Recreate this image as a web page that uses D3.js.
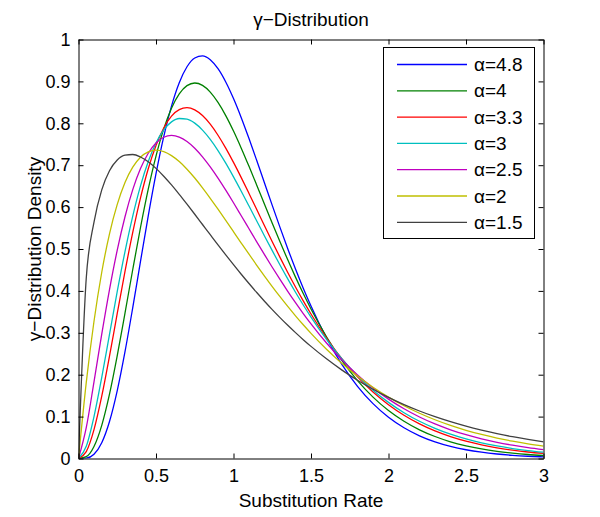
<!DOCTYPE html>
<html>
<head>
<meta charset="utf-8">
<script src="https://cdn.jsdelivr.net/npm/d3@7"></script>
<style>
  html, body { margin: 0; padding: 0; background: #fff; }
  text { font-family: "Liberation Sans", Arial, Helvetica, sans-serif; }
</style>
</head>
<body>
<svg id="chart" width="600" height="517"></svg>
<script>
// ---- data ----
const xValues = [0, 0.05, 0.1, 0.15, 0.2, 0.25, 0.3, 0.35, 0.4, 0.45, 0.5, 0.55, 0.6, 0.65, 0.7, 0.75, 0.8, 0.85, 0.9, 0.95, 1.0,
  1.05, 1.1, 1.15, 1.2, 1.25, 1.3, 1.35, 1.4, 1.45, 1.5, 1.6, 1.7, 1.8, 1.9, 2.0, 2.1, 2.2, 2.3, 2.4, 2.5, 2.6, 2.7, 2.8, 2.9, 3.0];

const dens48 = [0, .0009, .0102, .0376, .0882, .1620, .2549, .3601, .4705, .5791, .6798, .7682, .8410, .8968, .9349, .9558, .9609, .9517, .9302, .8986, .8590,
  .8134, .7635, .7111, .6576, .6041, .5516, .5008, .4523, .4066, .3638, .2877, .2241, .1723, .1310, .0985, .0734, .0542, .0397, .0289, .0209, .0150, .0107, .0076, .0054, .0038];
const dens40 = [0, .0044, .0286, .0790, .1534, .2453, .3470, .4511, .5513, .6427, .7218, .7866, .8361, .8703, .8899, .8962, .8905, .8745, .8499, .8184, .7815,
  .7407, .6972, .6523, .6068, .5615, .5171, .4741, .4329, .3938, .3569, .2904, .2335, .1858, .1465, .1145, .0889, .0685, .0525, .0399, .0303, .0228, .0171, .0128, .0095, .0071];
const dens33 = [0, .0165, .0690, .1487, .2444, .3462, .4465, .5397, .6221, .6916, .7472, .7889, .8171, .8328, .8374, .8321, .8184, .7978, .7715, .7407, .7067,
  .6704, .6326, .5941, .5555, .5174, .4801, .4440, .4093, .3762, .3449, .2876, .2377, .1949, .1587, .1284, .1032, .0826, .0658, .0522, .0412, .0324, .0254, .0199, .0155, .0120];
const dens30 = [0, .0290, .1000, .1937, .2964, .3986, .4940, .5787, .6506, .7087, .7531, .7843, .8034, .8115, .8100, .8004, .7838, .7616, .7349, .7048, .6721,
  .6378, .6025, .5668, .5312, .4961, .4618, .4286, .3968, .3663, .3374, .2844, .2379, .1976, .1631, .1339, .1093, .0889, .0720, .0581, .0467, .0374, .0299, .0238, .0189, .0150];
const dens25 = [0, .0734, .1831, .2968, .4033, .4974, .5770, .6417, .6919, .7286, .7531, .7667, .7710, .7672, .7566, .7405, .7199, .6958, .6690, .6403, .6103,
  .5794, .5483, .5172, .4866, .4565, .4273, .3990, .3719, .3459, .3212, .2756, .2351, .1994, .1685, .1417, .1187, .0991, .0825, .0685, .0567, .0469, .0386, .0318, .0261, .0214];
const dens20 = [0, .1810, .3275, .4445, .5363, .6065, .6586, .6952, .7189, .7318, .7358, .7323, .7229, .7086, .6905, .6694, .6461, .6211, .5951, .5684, .5413,
  .5143, .4875, .4612, .4354, .4104, .3862, .3629, .3405, .3191, .2987, .2609, .2269, .1967, .1700, .1465, .1260, .1080, .0925, .0790, .0674, .0574, .0488, .0414, .0351, .0297];
const dens15 = [0, .4301, .5642, .6411, .6868, .7124, .7240, .7255, .7196, .7081, .6924, .6737, .6529, .6304, .6069, .5829, .5585, .5341, .5098, .4860, .4626,
  .4397, .4176, .3961, .3754, .3554, .3363, .3179, .3004, .2836, .2676, .2379, .2110, .1869, .1653, .1460, .1287, .1134, .0998, .0878, .0771, .0677, .0593, .0520, .0456, .0399];

const seriesLabels = ["\u03b1=4.8", "\u03b1=4", "\u03b1=3.3", "\u03b1=3", "\u03b1=2.5", "\u03b1=2", "\u03b1=1.5"];
const seriesValues = [dens48, dens40, dens33, dens30, dens25, dens20, dens15];

const xTicks = [0, 0.5, 1, 1.5, 2, 2.5, 3];
const xTickLabels = ["0", "0.5", "1", "1.5", "2", "2.5", "3"];
const yTicks = [0, 0.1, 0.2, 0.3, 0.4, 0.5, 0.6, 0.7, 0.8, 0.9, 1];
const yTickLabels = ["0", "0.1", "0.2", "0.3", "0.4", "0.5", "0.6", "0.7", "0.8", "0.9", "1"];

const titleText = "\u03b3\u2212Distribution";
const xLabelText = "Substitution Rate";
const yLabelText = "\u03b3\u2212Distribution Density";

// ---- styles ----
const colors = ["#0000ff", "#008000", "#ff0000", "#00bfbf", "#bf00bf", "#bfbf00", "#404040"];
const TICK_FONT = 18;
const LABEL_FONT = 19;

// ---- layout ----
const L = 78.5, R = 543.5, T = 39.5, B = 458.5;
const svg = d3.select("#chart");

const x = d3.scaleLinear().domain([0, 3]).range([L, R]);
const y = d3.scaleLinear().domain([0, 1]).range([B, T]);

svg.append("defs").append("clipPath").attr("id", "clip")
  .append("rect").attr("x", L).attr("y", T).attr("width", R - L).attr("height", B - T);

// curves
const line = d3.line()
  .x((d, i) => x(xValues[i]))
  .y(d => y(d))
  .curve(d3.curveMonotoneX);

const curves = svg.append("g").attr("clip-path", "url(#clip)");
seriesValues.forEach((vals, k) => {
  curves.append("path")
    .datum(vals)
    .attr("d", line)
    .attr("fill", "none")
    .attr("stroke", colors[k])
    .attr("stroke-width", 1.3)
    .attr("stroke-linejoin", "round");
});

// axes
function styleAxis(g) {
  g.selectAll(".domain").attr("stroke", "#000").attr("stroke-width", 1);
  g.selectAll(".tick line").attr("stroke", "#000").attr("stroke-width", 1);
  g.selectAll("text").attr("font-size", TICK_FONT).attr("fill", "#000")
    .attr("font-family", "'Liberation Sans', Arial, Helvetica, sans-serif");
  g.attr("font-family", null).attr("font-size", null);
}

const xAxis = d3.axisBottom(x).tickValues(xTicks).tickFormat((d, i) => xTickLabels[i])
  .tickSizeInner(-5).tickSizeOuter(0).tickPadding(11);
svg.append("g").attr("transform", `translate(0,${B})`).call(xAxis).call(styleAxis);

const xAxisTop = d3.axisTop(x).tickValues(xTicks).tickFormat("")
  .tickSizeInner(-5).tickSizeOuter(0);
svg.append("g").attr("transform", `translate(0,${T})`).call(xAxisTop).call(styleAxis);

const yAxis = d3.axisLeft(y).tickValues(yTicks).tickFormat((d, i) => yTickLabels[i])
  .tickSizeInner(-5).tickSizeOuter(0).tickPadding(8);
svg.append("g").attr("transform", `translate(${L},0)`).call(yAxis).call(styleAxis);

const yAxisRight = d3.axisRight(y).tickValues(yTicks).tickFormat("")
  .tickSizeInner(-5).tickSizeOuter(0);
svg.append("g").attr("transform", `translate(${R},0)`).call(yAxisRight).call(styleAxis);

// title and axis labels
svg.append("text").attr("x", (L + R) / 2).attr("y", 26)
  .attr("text-anchor", "middle").attr("font-size", LABEL_FONT).text(titleText);
svg.append("text").attr("x", (L + R) / 2).attr("y", 507)
  .attr("text-anchor", "middle").attr("font-size", LABEL_FONT).text(xLabelText);
svg.append("text")
  .attr("transform", `translate(41,${(T + B) / 2}) rotate(-90)`)
  .attr("text-anchor", "middle").attr("font-size", LABEL_FONT).text(yLabelText);

// legend
const legX = 383.5, legY = 47.5, legW = 151, legH = 191;
const leg = svg.append("g");
leg.append("rect").attr("x", legX).attr("y", legY).attr("width", legW).attr("height", legH)
  .attr("fill", "#fff").attr("stroke", "#000").attr("stroke-width", 1);
seriesLabels.forEach((lab, k) => {
  const cy = 64.5 + k * 26.3;
  leg.append("line").attr("x1", 397).attr("x2", 467).attr("y1", cy).attr("y2", cy)
    .attr("stroke", colors[k]).attr("stroke-width", 1.3);
  leg.append("text").attr("x", 474).attr("y", cy).attr("dy", "0.35em")
    .attr("font-size", LABEL_FONT).text(lab);
});
</script>
</body>
</html>
